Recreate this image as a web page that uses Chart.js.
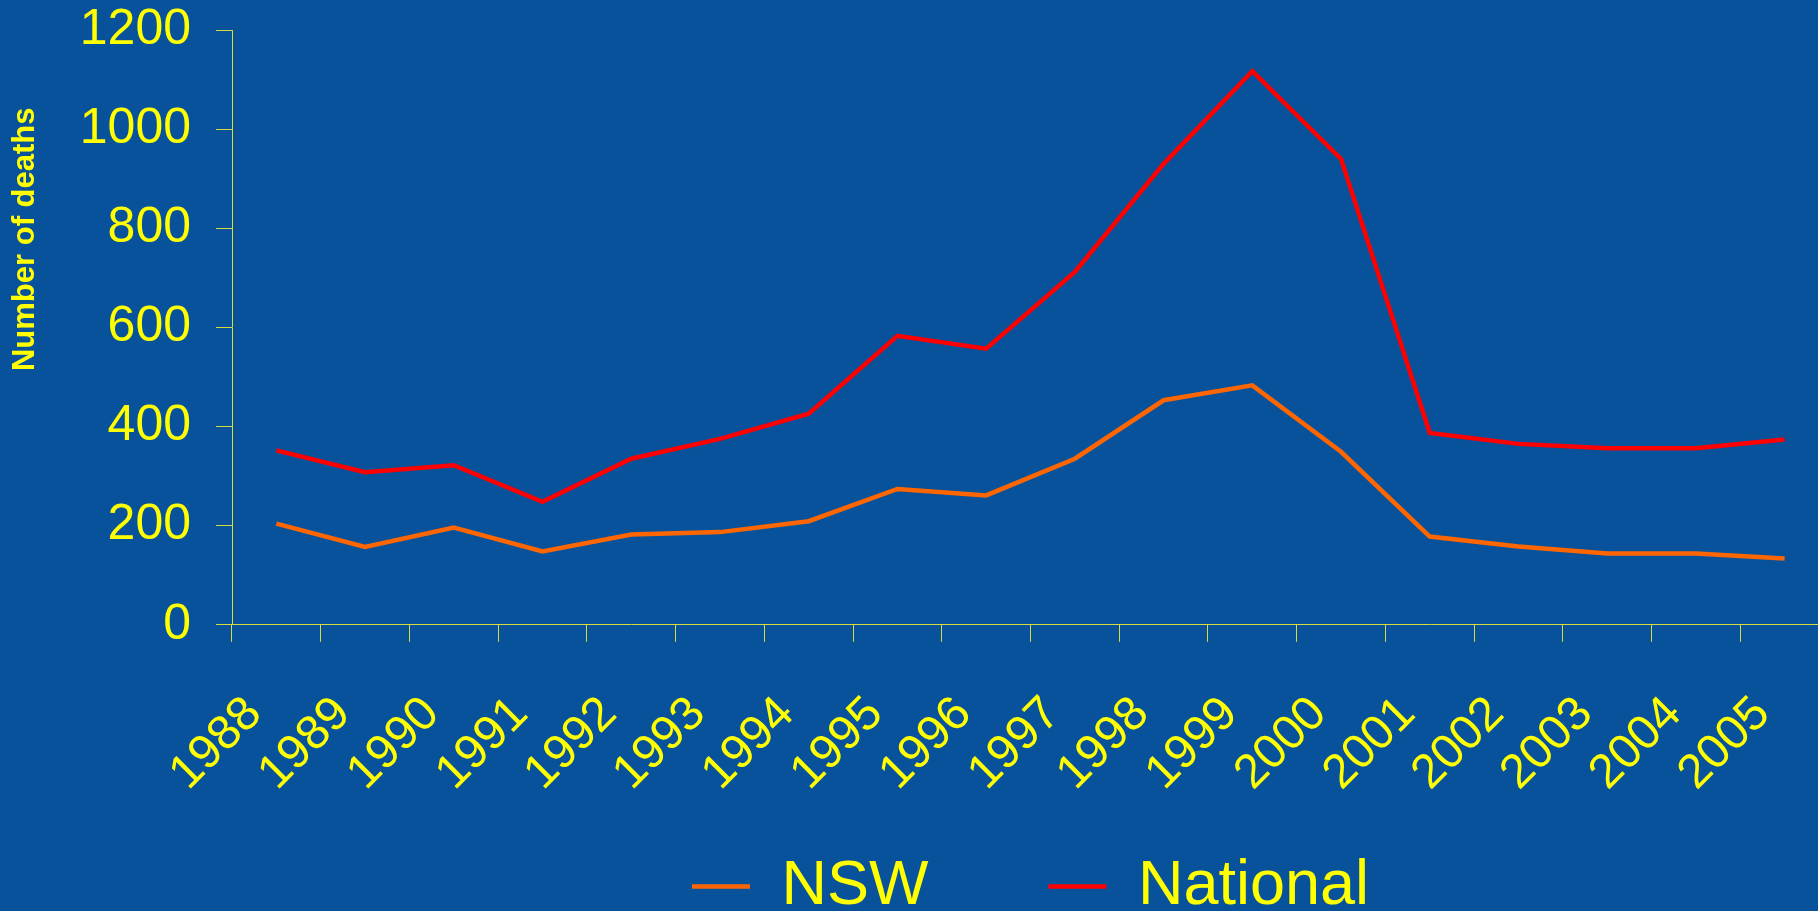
<!DOCTYPE html>
<html>
<head>
<meta charset="utf-8">
<script src="https://cdn.jsdelivr.net/npm/chart.js@4.4.1/dist/chart.umd.min.js"></script>
<style>
  html, body { margin: 0; padding: 0; overflow: hidden; background: #08529c; }
  #wrap { position: relative; width: 1840px; height: 928px; }
</style>
</head>
<body>
<div id="wrap"><canvas id="grafico"></canvas></div>
<script>
// dados
const anos = ['1988', '1989', '1990', '1991', '1992', '1993', '1994', '1995', '1996',
              '1997', '1998', '1999', '2000', '2001', '2002', '2003', '2004', '2005'];
const nsw = [204, 157, 196, 148, 182, 187, 209, 274, 261, 335, 453, 483, 349, 178, 158, 144, 144, 134];
const nacional = [352, 308, 322, 248, 335, 375, 426, 583, 557, 712, 930, 1117, 940, 387, 365, 356, 356, 374];
const tituloY = 'Number of deaths';

const amarelo = '#ffff00';
const corEixo = '#d6dc3c';
const fonte = "'Liberation Sans', Arial, sans-serif";

const ctx = document.getElementById('grafico').getContext('2d');
new Chart(ctx, {
    type: 'line',
    data: {
        labels: anos,
        datasets: [
            { label: 'NSW', data: nsw, borderColor: '#ff6600', backgroundColor: '#ff6600',
              borderWidth: 4.5, pointRadius: 0, tension: 0 },
            { label: 'National', data: nacional, borderColor: '#ff0000', backgroundColor: '#ff0000',
              borderWidth: 4.5, pointRadius: 0, tension: 0 }
        ]
    },
    options: {
        responsive: true,
        maintainAspectRatio: false,
        animation: false,
        layout: { padding: { top: 30, right: 11, bottom: 0, left: 0 } },
        plugins: {
            tooltip: { enabled: false },
            legend: {
                position: 'bottom',
                fullSize: false,
                // título vazio com padding negativo: sobe a legenda sem perder o espaço entre os itens
                title: { display: true, text: '', font: { size: 1 }, padding: { top: -71, bottom: 0 } },
                labels: {
                    color: amarelo,
                    font: { family: fonte, size: 63 },
                    usePointStyle: true,
                    pointStyle: 'line',
                    pointStyleWidth: 58,
                    padding: 120
                }
            }
        },
        scales: {
            x: {
                offset: true,
                grid: { offset: true, drawOnChartArea: false, drawTicks: true, tickLength: 17, color: corEixo, lineWidth: 1 },
                border: { display: true, color: corEixo, width: 1 },
                ticks: {
                    color: amarelo,
                    font: { family: fonte, size: 48 },
                    autoSkip: false,
                    minRotation: 45,
                    maxRotation: 45,
                    labelOffset: -22,
                    padding: 44
                },
                afterFit: (escala) => {
                    escala.height = 180;
                    escala.paddingLeft = 0;
                    escala.paddingRight = 0;
                }
            },
            y: {
                min: 0,
                max: 1200,
                ticks: {
                    stepSize: 200,
                    color: amarelo,
                    font: { family: fonte, size: 50 },
                    padding: 25,
                    callback: (valor) => String(valor)
                },
                grid: { drawOnChartArea: false, drawTicks: true, tickLength: 16, color: corEixo, lineWidth: 1 },
                border: { display: true, color: corEixo, width: 1 },
                title: {
                    display: true,
                    text: tituloY + '         ',
                    align: 'end',
                    color: amarelo,
                    font: { family: fonte, size: 31, weight: 'bold' },
                    padding: { top: 7, bottom: 0 }
                },
                afterFit: (escala) => {
                    escala.width = 232;
                    escala.paddingTop = 0;
                    escala.paddingBottom = 0;
                }
            }
        }
    }
});
</script>
</body>
</html>
